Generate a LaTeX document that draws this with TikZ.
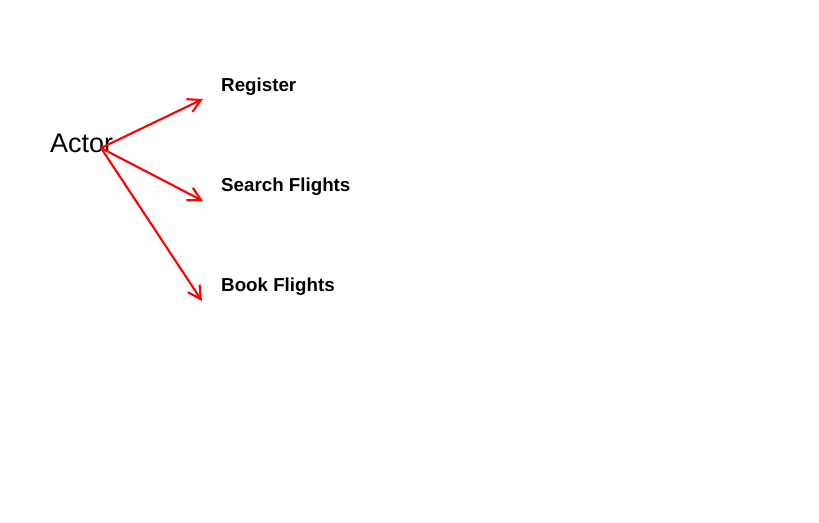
\documentclass[tikz,border=0pt]{standalone}
\usepackage{fontspec}
\setmainfont{Liberation Sans}
\usetikzlibrary{arrows.meta}

\begin{document}
\begin{tikzpicture}[x = 0.03cm, y = -0.03cm]
\tikzstyle{actorStyle} = [inner sep = 0pt, anchor = base west, font = \fontsize{23}{26}\selectfont]
\tikzstyle{caseStyle} = [inner sep = 0pt, anchor = base west, font = \fontsize{16}{19}\selectfont\bfseries]
\tikzstyle{linkStyle} = [draw = red, line width = 1.8pt, -{Straight Barb[length = 11pt, width = 12pt, line width = 1.8pt]}]
\useasboundingbox (0, 0) rectangle (819, 522);
\node[actorStyle] (actor) at (50, 152) {Actor};
\node[caseStyle] (register) at (221, 91) {Register};
\node[caseStyle] (search) at (221, 191) {Search Flights};
\node[caseStyle] (book) at (221, 291) {Book Flights};
\coordinate (hub) at (101, 148);
\coordinate (toRegister) at (203, 99);
\coordinate (toSearch) at (203, 201);
\coordinate (toBook) at (202, 301);
\draw[linkStyle] (hub) -- (toRegister);
\draw[linkStyle] (hub) -- (toSearch);
\draw[linkStyle] (hub) -- (toBook);
\end{tikzpicture}
\end{document}
